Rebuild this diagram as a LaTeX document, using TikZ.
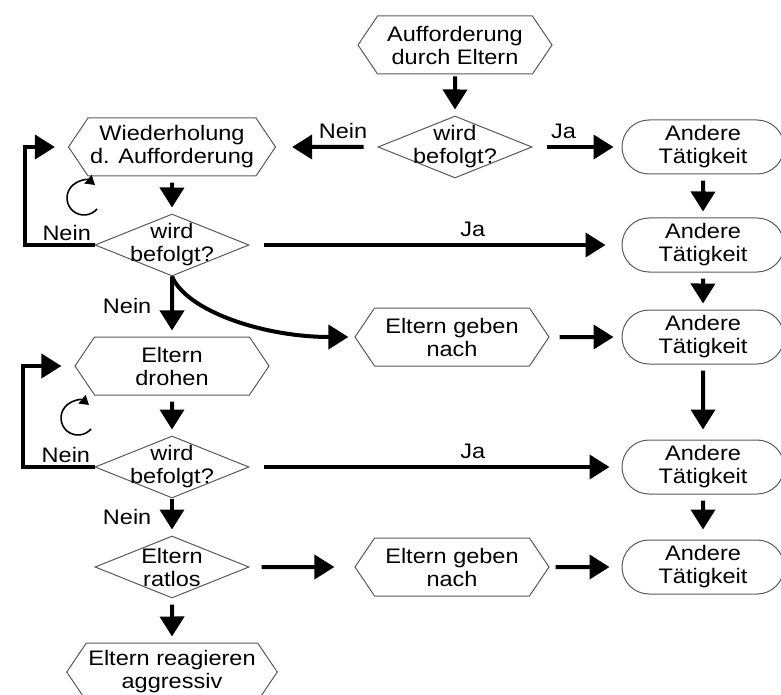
\documentclass[tikz,border=0pt]{standalone}
\usepackage{fontspec}
\setmainfont{Liberation Sans}[FakeStretch=1.12]
\usetikzlibrary{shapes.geometric,shapes.symbols,shapes.misc,arrows.meta}

\begin{document}
\begin{tikzpicture}[x=0.5pt, y=-0.5pt,
  font=\fontsize{10.5}{11.5}\selectfont,
  box/.style={draw=gray!70!black, line width=0.5pt, align=center, inner sep=1pt},
  hexa/.style={box, signal, signal to=east and west, signal pointer angle=112, minimum width=97pt, minimum height=29pt},
  dia/.style={box, diamond, aspect=2.5, minimum width=77pt, minimum height=31pt, label={[align=center]center:#1}},
  act/.style={box, rounded rectangle, minimum width=83pt, minimum height=27pt},
  arr/.style={line width=2pt, -{Triangle[length=10pt,width=12pt]}, shorten <=3pt, shorten >=3pt},
  turn/.style={line width=0.8pt, -{Triangle[length=4.5pt,width=5.5pt]}}
]
\useasboundingbox (0,0) rectangle (781,695);

% main column
\node[hexa] (auf) at (455,45) {Aufforderung\\durch Eltern};
\node[dia={wird\\befolgt?}] (d1) at (455,147) {};
\node[hexa] (wdh) at (172,147) {Wiederholung\\d. Aufforderung};
\node[dia={wird\\befolgt?}] (d2) at (172,245) {};
\node[hexa] (dro) at (172,366) {Eltern\\drohen};
\node[dia={wird\\befolgt?}] (d3) at (172,467) {};
\node[dia={Eltern\\ratlos}] (rat) at (172,567) {};
\node[hexa] (agg) at (172,672) {Eltern reagieren\\aggressiv};

% giving in
\node[hexa] (egn1) at (452,337) {Eltern geben\\nach};
\node[hexa] (egn2) at (452,567) {Eltern geben\\nach};

% right column
\node[act] (a1) at (703,147) {Andere\\Tätigkeit};
\node[act] (a2) at (703,245) {Andere\\Tätigkeit};
\node[act] (a3) at (703,337) {Andere\\Tätigkeit};
\node[act] (a4) at (703,467) {Andere\\Tätigkeit};
\node[act] (a5) at (703,567) {Andere\\Tätigkeit};

\coordinate (l1) at (25,200);
\coordinate (l2) at (23,420);
\coordinate (c1) at (84,198);
\coordinate (c2) at (78,418);

\draw[arr, shorten <=1pt] (auf) -- (d1);
\draw[arr, shorten <=7pt, shorten >=8pt] (d1) -- node[above, pos=0.34]{Nein} (wdh);
\draw[arr, shorten <=7pt, shorten >=4pt] (d1) -- node[above, pos=0.35]{Ja} (a1);
\draw[arr] (wdh) -- (d2);
\draw[arr, shorten <=7pt, shorten >=8pt] (d2) -- node[above, pos=0.6]{Ja} (a2);
\draw[arr, shorten <=0pt, shorten >=6.5pt] (d2.west) -| node[pos=0.2, above, inner sep=1pt]{Nein} (l1) |- (wdh.west);
\draw[arr, shorten <=0pt] (d2) -- node[left, xshift=-6pt]{Nein} (dro);
\draw[arr, shorten <=0pt] (d2.south) .. controls +(15,35) and +(-90,0) .. (egn1.west);
\draw[arr, shorten <=5pt, shorten >=4pt] (egn1) -- (a3);
\draw[arr] (dro) -- (d3);
\draw[arr, shorten <=7pt, shorten >=6pt] (d3) -- node[above, pos=0.6]{Ja} (a4);
\draw[arr, shorten <=0pt, shorten >=6.5pt] (d3.west) -| node[pos=0.2, above, inner sep=1pt]{Nein} (l2) |- (dro.west);
\draw[arr, shorten <=0pt] (d3) -- node[left, xshift=-6pt]{Nein} (rat);
\draw[arr, shorten <=6pt, shorten >=10pt] (rat) -- (egn2);
\draw[arr, shorten >=6pt] (egn2) -- (a5);
\draw[arr] (rat) -- (agg);
\draw[arr] (a1) -- (a2);
\draw[arr] (a2) -- (a3);
\draw[arr, shorten >=5pt] (a3) -- (a4);
\draw[arr, shorten >=5pt] (a4) -- (a5);

% repeat marks
\draw[turn] (c1) ++(-40:8.5pt) arc[start angle=-40, end angle=-310, radius=8.5pt];
\draw[turn] (c2) ++(-40:8.5pt) arc[start angle=-40, end angle=-310, radius=8.5pt];
\end{tikzpicture}
\end{document}
